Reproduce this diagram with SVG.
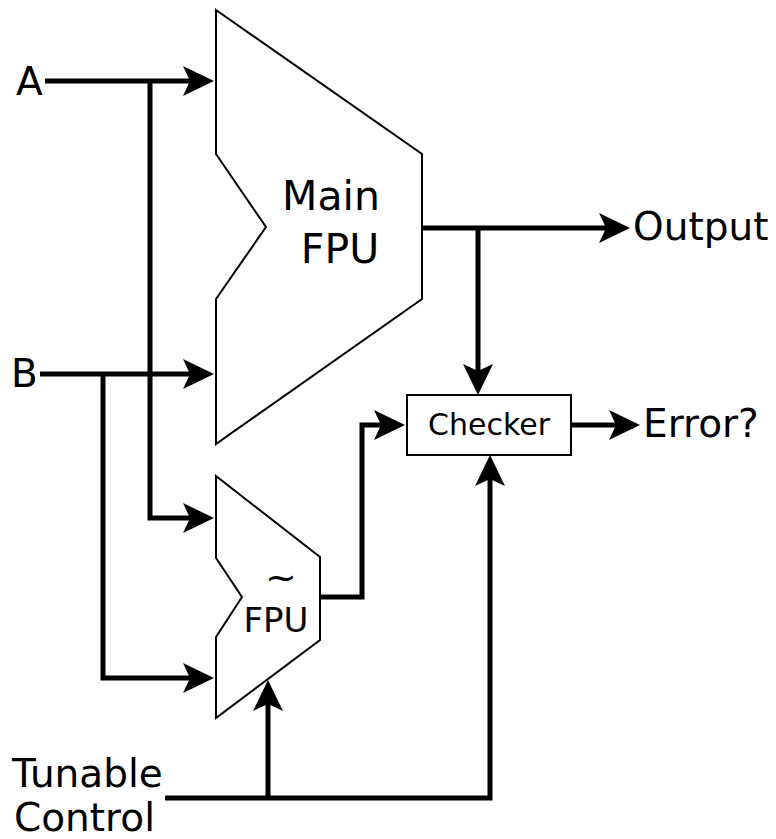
<svg xmlns="http://www.w3.org/2000/svg" width="776" height="839" viewBox="0 0 776 839">
<style>
.blk{fill:#fff;stroke:#000;stroke-width:2;stroke-linejoin:miter}
.wire{fill:none;stroke:#000;stroke-width:5;stroke-linejoin:miter;stroke-linecap:butt;marker-end:url(#arr)}
text{font-family:"DejaVu Sans","Liberation Sans",sans-serif;fill:#000}
.lbl{font-size:39px}
</style>
<defs>
<marker id="arr" markerUnits="userSpaceOnUse" orient="auto" refX="0" refY="0" markerWidth="40" markerHeight="40" overflow="visible">
<path d="M24,0 L-7,-15 L0,0 L-7,15 Z" fill="#000"/>
</marker>
</defs>
<rect width="776" height="839" fill="#fff"/>
<g id="main-fpu">
<polygon class="blk" points="216,10 422,154 422,299 216,444 216,299 266,227 216,154"/>
<text x="331" y="210" font-size="41" text-anchor="middle">Main</text>
<text x="340" y="263" font-size="41" text-anchor="middle">FPU</text>
</g>
<g id="approx-fpu">
<polygon class="blk" points="216,476 320,557 320,640 216,718 216,637 242,597 216,558"/>
<text x="281" y="590" font-size="38" text-anchor="middle">~</text>
<text x="276" y="632" font-size="34" text-anchor="middle">FPU</text>
</g>
<g id="checker">
<rect class="blk" x="407" y="395" width="164" height="60"/>
<text x="489" y="435" font-size="30" text-anchor="middle">Checker</text>
</g>
<g id="labels">
<text class="lbl" x="16" y="95">A</text>
<text class="lbl" x="11" y="387">B</text>
<text class="lbl" x="633" y="240">Output</text>
<text class="lbl" x="643" y="437">Error?</text>
<text class="lbl" x="12" y="787">Tunable</text>
<text class="lbl" x="14" y="831">Control</text>
</g>
<g id="connectors">
<path class="wire" d="M45,81 H190"/>
<path class="wire" d="M150,81 V518 H190"/>
<path class="wire" d="M40,374 H190"/>
<path class="wire" d="M103,374 V678 H190"/>
<path class="wire" d="M422,228 H606"/>
<path class="wire" d="M478,228 V371"/>
<path class="wire" d="M320,597 H362 V425 H381"/>
<path class="wire" d="M571,425 H616"/>
<path class="wire" d="M165,798 H490 V479"/>
<path class="wire" d="M268,798 V704"/>
</g>
</svg>
